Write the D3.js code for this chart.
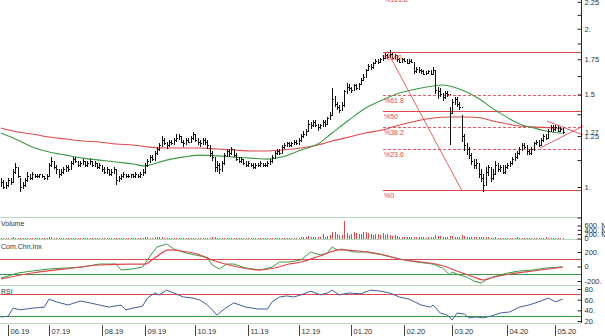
<!DOCTYPE html>
<html><head><meta charset="utf-8">
<script src="https://cdn.jsdelivr.net/npm/d3@7/dist/d3.min.js"></script>
<style>body{margin:0;background:#fff;overflow:hidden} svg{display:block} text{font-family:"Liberation Sans",Arial,sans-serif}</style>
</head><body><svg id="c" width="605" height="336"></svg>
<script>
// ---------- DATA ----------
const closes=[1.02,1.00,1.01,1.03,1.02,1.07,1.09,1.05,1.00,1.01,
1.03,1.05,1.04,1.06,1.05,1.05,1.06,1.05,1.04,1.05,
1.10,1.12,1.09,1.08,1.06,1.07,1.08,1.09,1.08,1.11,
1.13,1.12,1.10,1.11,1.12,1.10,1.11,1.12,1.10,1.11,
1.09,1.10,1.08,1.07,1.08,1.06,1.07,1.08,1.03,1.04,
1.05,1.06,1.05,1.05,1.06,1.05,1.06,1.05,1.06,1.07,
1.10,1.12,1.14,1.13,1.16,1.18,1.20,1.23,1.21,1.20,
1.22,1.21,1.23,1.24,1.25,1.22,1.21,1.23,1.22,1.24,
1.26,1.23,1.22,1.21,1.23,1.22,1.20,1.16,1.14,1.09,
1.10,1.08,1.11,1.15,1.17,1.16,1.18,1.15,1.13,1.12,
1.13,1.11,1.10,1.11,1.10,1.09,1.10,1.10,1.11,1.10,
1.10,1.11,1.12,1.14,1.16,1.17,1.16,1.19,1.20,1.21,
1.20,1.21,1.22,1.21,1.23,1.25,1.26,1.28,1.32,1.31,
1.33,1.31,1.30,1.31,1.33,1.32,1.35,1.37,1.47,1.44,
1.42,1.40,1.43,1.52,1.55,1.54,1.53,1.56,1.54,1.57,
1.60,1.62,1.67,1.70,1.69,1.72,1.74,1.73,1.75,1.76,
1.78,1.77,1.79,1.76,1.78,1.75,1.73,1.75,1.74,1.72,
1.74,1.73,1.66,1.68,1.67,1.66,1.64,1.65,1.66,1.64,
1.67,1.53,1.52,1.50,1.48,1.51,1.50,1.38,1.45,1.47,
1.44,1.42,1.25,1.20,1.18,1.15,1.12,1.10,1.11,1.06,
1.04,1.01,1.07,1.09,1.04,1.06,1.10,1.08,1.09,1.07,
1.09,1.10,1.11,1.13,1.14,1.16,1.18,1.20,1.19,1.17,
1.16,1.18,1.21,1.22,1.20,1.23,1.25,1.24,1.28,1.30,
1.29,1.30,1.28,1.29,1.27];
const highs=[1.04,1.03,1.02,1.04,1.04,1.08,1.11,1.09,1.04,1.02,
1.04,1.07,1.06,1.07,1.06,1.06,1.06,1.06,1.05,1.06,
1.11,1.14,1.12,1.10,1.08,1.08,1.09,1.10,1.10,1.12,
1.14,1.14,1.12,1.12,1.13,1.12,1.12,1.13,1.12,1.12,
1.11,1.11,1.10,1.09,1.09,1.08,1.08,1.09,1.08,1.05,
1.06,1.07,1.06,1.06,1.06,1.06,1.07,1.06,1.07,1.08,
1.11,1.13,1.15,1.15,1.17,1.19,1.21,1.25,1.24,1.22,
1.23,1.23,1.24,1.26,1.26,1.25,1.23,1.24,1.24,1.25,
1.27,1.26,1.24,1.23,1.24,1.24,1.23,1.20,1.17,1.14,
1.12,1.11,1.12,1.16,1.18,1.18,1.19,1.18,1.16,1.14,
1.14,1.13,1.12,1.12,1.11,1.11,1.11,1.11,1.12,1.11,
1.11,1.12,1.13,1.15,1.17,1.18,1.18,1.20,1.21,1.22,
1.22,1.22,1.23,1.23,1.24,1.26,1.28,1.29,1.34,1.33,
1.34,1.34,1.32,1.32,1.34,1.34,1.36,1.39,1.54,1.49,
1.45,1.43,1.45,1.53,1.58,1.57,1.55,1.57,1.57,1.58,
1.61,1.64,1.68,1.71,1.71,1.73,1.75,1.75,1.76,1.78,
1.80,1.79,1.82,1.80,1.79,1.78,1.76,1.76,1.76,1.75,
1.75,1.75,1.73,1.69,1.69,1.68,1.67,1.66,1.67,1.67,
1.69,1.67,1.55,1.54,1.51,1.52,1.52,1.42,1.47,1.48,
1.48,1.45,1.37,1.26,1.21,1.19,1.16,1.13,1.13,1.11,
1.08,1.06,1.09,1.10,1.09,1.08,1.12,1.11,1.10,1.10,
1.10,1.11,1.12,1.14,1.16,1.17,1.19,1.21,1.21,1.20,
1.18,1.19,1.22,1.23,1.23,1.24,1.26,1.26,1.29,1.31,
1.31,1.31,1.31,1.30,1.30];
const lows=[1.00,0.99,0.99,1.00,1.01,1.02,1.06,1.04,0.98,0.99,
1.00,1.02,1.03,1.03,1.04,1.04,1.04,1.04,1.03,1.03,
1.05,1.09,1.08,1.06,1.04,1.05,1.06,1.07,1.07,1.08,
1.10,1.11,1.09,1.09,1.10,1.09,1.09,1.10,1.09,1.09,
1.08,1.08,1.07,1.06,1.06,1.05,1.05,1.06,1.01,1.02,
1.03,1.04,1.04,1.04,1.04,1.04,1.04,1.04,1.04,1.05,
1.06,1.09,1.11,1.12,1.12,1.15,1.17,1.19,1.20,1.18,
1.19,1.20,1.20,1.22,1.23,1.21,1.19,1.20,1.21,1.21,
1.23,1.22,1.20,1.19,1.20,1.20,1.18,1.14,1.12,1.07,
1.07,1.06,1.07,1.10,1.14,1.14,1.15,1.14,1.12,1.11,
1.11,1.10,1.09,1.09,1.09,1.08,1.08,1.09,1.09,1.09,
1.09,1.09,1.10,1.11,1.13,1.15,1.15,1.16,1.18,1.19,
1.19,1.19,1.20,1.20,1.20,1.22,1.24,1.25,1.27,1.29,
1.30,1.30,1.28,1.29,1.30,1.30,1.31,1.34,1.37,1.42,
1.40,1.38,1.40,1.42,1.50,1.52,1.51,1.52,1.53,1.53,
1.56,1.59,1.62,1.66,1.67,1.68,1.71,1.71,1.72,1.74,
1.75,1.75,1.76,1.75,1.75,1.73,1.72,1.72,1.73,1.71,
1.71,1.72,1.64,1.65,1.65,1.64,1.63,1.63,1.64,1.63,
1.64,1.50,1.47,1.48,1.46,1.47,1.48,1.20,1.38,1.43,
1.42,1.40,1.22,1.17,1.15,1.13,1.10,1.08,1.08,1.04,
1.02,0.98,1.01,1.05,1.02,1.03,1.06,1.07,1.07,1.06,
1.06,1.08,1.09,1.10,1.12,1.13,1.15,1.17,1.18,1.15,
1.15,1.15,1.17,1.20,1.19,1.20,1.22,1.23,1.24,1.27,
1.27,1.28,1.27,1.27,1.26];
const volumes=[30,25,20,28,35,60,45,30,40,25,
20,30,25,22,18,20,25,30,22,28,
55,50,30,25,28,22,20,25,30,35,
40,30,25,22,28,20,25,30,22,18,
20,25,22,28,30,25,20,22,45,30,
20,18,22,25,20,18,22,25,20,28,
50,60,45,40,55,50,60,70,45,40,
35,30,40,35,45,40,30,28,35,40,
45,35,30,28,25,30,35,40,50,55,
40,35,30,45,40,35,30,28,25,22,
25,22,20,18,22,25,20,18,22,20,
20,22,25,35,40,30,28,35,30,28,
30,28,35,40,35,60,50,70,120,90,
60,50,70,90,230,80,120,150,320,300,
200,150,140,800,250,180,220,300,250,200,
220,280,300,250,200,180,220,200,160,250,
180,200,150,120,160,100,80,90,70,60,
60,55,90,70,60,55,50,45,60,55,
50,140,120,100,80,90,70,120,130,90,
80,70,140,100,80,70,60,55,50,60,
55,70,60,50,45,40,50,45,40,42,
40,38,45,40,42,50,45,40,38,35,
35,40,38,42,45,40,38,50,45,40,
42,38,40,35,30];
const monthLabels=["06.19","07.19","08.19","09.19","10.19","11.19","12.19","01.20","02.20","03.20","04.20","05.20"];
const monthStartBar=[3,20,42,60,81,103,124,146,168,188,211,231];
// moving averages (read at sample bars)
const maGreenBar=[0,7,13,20,27,34,41,48,55,60,62,69,76,83,90,97,104,111,117,125,132,138,145,152,159,166,173,180,184,187,191,194,200,204,208,212,216,222,227,234];
const maGreenVal=[1.267,1.228,1.191,1.166,1.150,1.135,1.125,1.116,1.106,1.096,1.101,1.125,1.140,1.150,1.146,1.140,1.135,1.130,1.140,1.176,1.207,1.267,1.341,1.413,1.464,1.509,1.536,1.556,1.563,1.556,1.536,1.516,1.464,1.419,1.382,1.347,1.318,1.295,1.278,1.265];
const maRedBar=[0,7,13,20,27,34,41,48,55,62,69,83,90,97,104,111,117,125,132,138,145,152,159,166,173,180,187,194,200,205,211,216,223,231,234];
const maRedVal=[1.295,1.272,1.261,1.245,1.234,1.223,1.218,1.207,1.202,1.191,1.186,1.186,1.181,1.176,1.171,1.171,1.176,1.186,1.202,1.223,1.245,1.267,1.284,1.312,1.335,1.353,1.359,1.359,1.353,1.335,1.318,1.306,1.300,1.295,1.290];
// Fibonacci retracement
const fibHigh=1.81, fibLow=0.985, fibStartBar=159;
const fibRatios=[0,0.236,0.382,0.5,0.618,1,1.618];
const fibLabels=["%0","%23.6","%38.2","%50","%61.8","%100","%161.8"];
const fibDashed=[false,true,true,false,true,false,true];
const trendBar=[161,192], trendVal=[1.81,0.985];
const triUpperBar=[227.5,242.5], triUpperVal=[1.335,1.256];
const triLowerBar=[224.6,242.5], triLowerVal=[1.186,1.306];
// price axis
const priceTicks=[0.875,1,1.125,1.25,1.375,1.5,1.625,1.75,1.875,2,2.125,2.25];
const priceLabelVals=[1,1.25,1.5,1.75,2,2.25];
const priceLabelText=["1.","1.25","1.5","1.75","2.","2.25"];
const lastPrice=1.27, lastPriceText="1.27";
// volume axis
const volTicks=[0,200,400,600];
const volTickText=["0","200. M","400. M","600. M"];
// CCI
const cciBar=[0,7,13,20,27,34,41,48,50,55,59,61,63,65,69,72,77,83,86,88,91,94,97,102,108,113,116,120,125,129,133,136,138,140,142,147,152,159,166,173,180,184,187,188,191,194,197,200,202,205,211,216,222,227,234];
const cciVal=[-159,-90,-62,-34,-21,-7,34,34,-48,-34,-7,90,186,269,310,241,186,145,117,21,-34,34,34,-21,-48,-7,62,62,90,200,159,186,269,228,241,200,200,159,103,62,34,-21,-117,-76,-117,-145,-200,-228,-186,-145,-90,-62,-48,-21,-7];
const cciSigBar=[0,13,27,41,54,60,64,70,75,83,88,95,108,114,120,125,133,141,149,158,166,175,183,191,197,201,204,212,225,234];
const cciSigVal=[-172,-90,-34,21,34,34,117,228,214,159,90,21,-48,-21,34,62,145,228,214,172,103,62,21,-76,-145,-186,-159,-103,-48,-7];
const cciTicks=[-200,0,200], cciTickText=["-200.","0","200."];
const cciUpper=100, cciLower=-100;
// RSI
const rsiBar=[0,3,5,8,13,18,20,23,28,33,37,41,45,50,52,55,59,61,64,66,69,72,76,80,83,86,88,90,93,97,102,107,111,113,116,119,122,125,129,133,136,138,141,145,150,154,158,162,166,170,175,179,180,183,186,188,190,193,195,198,201,204,208,212,216,220,224,228,231,234];
const rsiVal=[27.5,29,44,41,44,46,61,56,50,57.5,54,50,46,50,41,44,48,63,72.5,69,78,72.5,65,63,59,50,41,31,42.5,54,46,42.5,42.5,56,65,67,65,69,76,69,72.5,78,69,72.5,71,78,76,72.5,65,61,50,46,50,35,31,22,35,33,26,27.5,26,29,35,37,46,50,56,63,56,61];
const rsiTicks=[20,40,60,80], rsiTickText=["20.","40.","60.","80."];
const rsiUpper=70, rsiLower=30;

// ---------- LAYOUT ----------
const W=605,H=336, axisX=581, FS=7;
const svg=d3.select("#c");
const n=closes.length;
const x=d3.scaleLinear().domain([0,n-1]).range([1,562.6]);
const y=d3.scaleLog().domain([0.875,2.268]).range([217.5,0]);
const yv=d3.scaleLinear().domain([0,600]).range([238.5,225.5]);
const yc=d3.scaleLinear().domain([-200,200]).range([281,252]);
const yr=d3.scaleLinear().domain([20,80]).range([321,289]);
const RED="#e0474c", DASHRED="#ee5a60", GREEN="#3b9a43", SEP="#b9d9bb", TXT="#333";

svg.append("rect").attr("width",W).attr("height",H).attr("fill","#fff");
const defs=svg.append("defs");
defs.append("clipPath").attr("id","cm").append("rect").attr("x",0).attr("y",0).attr("width",axisX).attr("height",217);

// separators
[217.5,239.5,285.5,323.5].forEach(v=>svg.append("line").attr("x1",0).attr("x2",axisX).attr("y1",v).attr("y2",v).attr("stroke",SEP).attr("stroke-width",1));

// ----- main panel -----
const main=svg.append("g").attr("clip-path","url(#cm)");
const x0=Math.round(x(fibStartBar));
const fibY=fibRatios.map(r=>Math.round(y(fibLow+r*(fibHigh-fibLow))));
// fib lines
fibRatios.forEach((r,k)=>{
  const yy=fibY[k];
  if(fibDashed[k]){
    main.append("g").selectAll("rect").data(d3.range(x0,axisX,5)).join("rect")
      .attr("x",d=>d).attr("y",yy).attr("width",d=>Math.min(3,axisX-d)).attr("height",1).attr("fill",DASHRED);
  } else {
    main.append("rect").attr("x",x0).attr("y",yy).attr("width",axisX-x0).attr("height",1).attr("fill",RED);
  }
});
// trend line
main.append("line").attr("x1",x(trendBar[0])).attr("y1",y(trendVal[0])).attr("x2",x(trendBar[1])).attr("y2",y(trendVal[1])).attr("stroke",RED).attr("stroke-width",1).attr("opacity",0.85);
// MAs
const lineG=d3.line().x(d=>x(d[0])).y(d=>y(d[1])).curve(d3.curveMonotoneX);
main.append("path").attr("d",lineG(maRedBar.map((b,k)=>[b,maRedVal[k]]))).attr("fill","none").attr("stroke",RED).attr("stroke-width",1.1);
main.append("path").attr("d",lineG(maGreenBar.map((b,k)=>[b,maGreenVal[k]]))).attr("fill","none").attr("stroke",GREEN).attr("stroke-width",1.1);
// bars
const bars=main.append("g").attr("stroke","#111").attr("stroke-width",1).attr("shape-rendering","crispEdges");
closes.forEach((c,i)=>{
  const xx=Math.round(x(i))+0.5;
  const o=i>0?closes[i-1]:c;
  bars.append("line").attr("x1",xx).attr("x2",xx).attr("y1",y(highs[i])).attr("y2",y(lows[i]));
  bars.append("line").attr("x1",xx-1).attr("x2",xx).attr("y1",Math.round(y(o))+0.5).attr("y2",Math.round(y(o))+0.5);
  bars.append("line").attr("x1",xx).attr("x2",xx+1).attr("y1",Math.round(y(c))+0.5).attr("y2",Math.round(y(c))+0.5);
});
// fib labels on top of bars
fibRatios.forEach((r,k)=>{
  main.append("text").attr("x",x0+1).attr("y",fibY[k]+(r>1?6.5:7.5)).attr("font-size",FS).attr("fill",RED).text(fibLabels[k]);
});
// triangle
[[triUpperBar,triUpperVal],[triLowerBar,triLowerVal]].forEach(([b,v])=>{
  svg.append("line").attr("x1",x(b[0])).attr("y1",y(v[0])).attr("x2",x(b[1])).attr("y2",y(v[1])).attr("stroke",RED).attr("stroke-width",1).attr("opacity",0.85);
});

// price axis
const pax=d3.axisRight(y).tickValues(priceTicks).tickSizeInner(-4).tickSizeOuter(0).tickPadding(3)
  .tickFormat(v=>{const k=priceLabelVals.indexOf(v);return k>=0?priceLabelText[k]:"";});
const pg=svg.append("g").attr("transform",`translate(${axisX+0.5},0)`).call(pax);
pg.select(".domain").remove();
svg.append("text").attr("x",axisX+4).attr("y",y(lastPrice)+2.5).attr("font-size",FS).attr("fill",TXT).text(lastPriceText);

// right axis line
svg.append("line").attr("x1",axisX+0.5).attr("x2",axisX+0.5).attr("y1",0).attr("y2",323).attr("stroke","#222");

// ----- volume -----
svg.append("text").attr("x",1).attr("y",226).attr("font-size",FS).attr("fill",TXT).text("Volume");
const vg=svg.append("g").attr("stroke",RED).attr("stroke-width",1).attr("shape-rendering","crispEdges");
volumes.forEach((v,i)=>{const xx=Math.round(x(i))+0.5;vg.append("line").attr("x1",xx).attr("x2",xx).attr("y1",yv(0)).attr("y2",yv(v));});
const vax=d3.axisRight(yv).tickValues(volTicks).tickSizeInner(-4).tickSizeOuter(0).tickPadding(3).tickFormat((v,k)=>volTickText[k]);
const vga=svg.append("g").attr("transform",`translate(${axisX+0.5},0)`).call(vax);vga.select(".domain").remove();

// ----- CCI -----
svg.append("text").attr("x",1).attr("y",249).attr("font-size",FS).attr("fill",TXT).text("Com.Chn.Inx");
[[cciUpper,RED],[cciLower,GREEN]].forEach(([v,c])=>svg.append("line").attr("x1",0).attr("x2",axisX).attr("y1",Math.round(yc(v))+0.5).attr("y2",Math.round(yc(v))+0.5).attr("stroke",c));
const lc=d3.line().x(d=>x(d[0])).y(d=>yc(d[1]));
svg.append("path").attr("d",lc(cciBar.map((b,k)=>[b,cciVal[k]]))).attr("fill","none").attr("stroke",GREEN).attr("stroke-width",1);
svg.append("path").attr("d",lc.curve(d3.curveMonotoneX)(cciSigBar.map((b,k)=>[b,cciSigVal[k]]))).attr("fill","none").attr("stroke",RED).attr("stroke-width",1.2);
const cax=d3.axisRight(yc).tickValues(cciTicks).tickSizeInner(-4).tickSizeOuter(0).tickPadding(3).tickFormat((v,k)=>cciTickText[k]);
const cga=svg.append("g").attr("transform",`translate(${axisX+0.5},0)`).call(cax);cga.select(".domain").remove();

// ----- RSI -----
svg.append("text").attr("x",1).attr("y",294).attr("font-size",FS).attr("fill",TXT).text("RSI");
[[rsiUpper,RED],[rsiLower,GREEN]].forEach(([v,c])=>svg.append("line").attr("x1",0).attr("x2",axisX).attr("y1",Math.round(yr(v))+0.5).attr("y2",Math.round(yr(v))+0.5).attr("stroke",c));
const lr=d3.line().x(d=>x(d[0])).y(d=>yr(d[1]));
svg.append("path").attr("d",lr(rsiBar.map((b,k)=>[b,rsiVal[k]]))).attr("fill","none").attr("stroke","#3d5f9a").attr("stroke-width",1);
const rax=d3.axisRight(yr).tickValues(rsiTicks).tickSizeInner(-4).tickSizeOuter(0).tickPadding(3).tickFormat((v,k)=>rsiTickText[k]);
const rga=svg.append("g").attr("transform",`translate(${axisX+0.5},0)`).call(rax);rga.select(".domain").remove();

// ----- date axis -----
const dg=svg.append("g");
monthStartBar.forEach((b,k)=>{
  const xx=Math.round(x(b))+0.5;
  dg.append("line").attr("x1",xx).attr("x2",xx).attr("y1",325).attr("y2",336).attr("stroke","#444");
  dg.append("text").attr("x",xx+2).attr("y",334).attr("font-size",FS+0.5).attr("fill",TXT).text(monthLabels[k]);
});

svg.selectAll(".tick text").attr("font-size",FS+0.5).attr("fill",TXT).attr("font-family","Liberation Sans,Arial,sans-serif");
svg.selectAll(".tick line").attr("stroke","#222");
</script></body></html>
